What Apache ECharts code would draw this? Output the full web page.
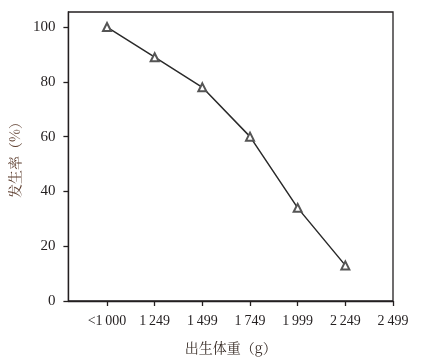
<!DOCTYPE html>
<html>
<head>
<meta charset="utf-8">
<script src="https://cdn.jsdelivr.net/npm/echarts@6/dist/echarts.min.js"></script>
<style>html,body{margin:0;padding:0;background:#fff;}#c{width:425px;height:363px;}</style>
</head>
<body>
<div id="c"></div>
<script>
var categories = ["<1\u2009000", "1\u2009249", "1\u2009499", "1\u2009749", "1\u2009999", "2\u2009249", "2\u2009499"];
var values = [100, 89, 78, 60, 34, 13];
var yTicks = [0, 20, 40, 60, 80, 100];
var xTitle = "出生体重（g）";
var yTitle = "发生率（%）";

var ink = '#231f20';
var serif = '"Liberation Serif","DejaVu Serif",serif';
var cjk = '"Noto Serif CJK SC","Noto Sans CJK SC",serif';
var pos = categories.map(function (_, i) { return i + 1; });
var chart = echarts.init(document.getElementById('c'), null, {renderer: 'canvas'});
chart.setOption({
  animation: false,
  backgroundColor: '#fff',
  grid: {left: 67, right: 32, top: 12, bottom: 62, show: true, borderColor: ink, borderWidth: 1.3, backgroundColor: 'transparent'},
  xAxis: {
    type: 'value', min: 0.19, max: 7,
    name: xTitle, nameLocation: 'middle', nameGap: 40,
    nameTextStyle: {fontFamily: cjk, fontSize: 14, color: '#3a2e28'},
    axisLine: {show: true, lineStyle: {color: ink, width: 1.3}},
    axisTick: {show: true, length: 5, inside: false, customValues: pos, lineStyle: {color: ink, width: 1.3}},
    axisLabel: {customValues: pos, margin: 13, fontFamily: serif, fontSize: 14, color: ink,
      formatter: function (v) { return categories[Math.round(v) - 1] || ''; }},
    splitLine: {show: false}
  },
  yAxis: {
    type: 'value', min: 0, max: 105.5,
    name: yTitle, nameLocation: 'middle', nameGap: 46, nameRotate: 90,
    nameTextStyle: {fontFamily: cjk, fontSize: 14, color: '#5a3a2a'},
    axisLine: {show: true, lineStyle: {color: ink, width: 1.3}},
    axisTick: {show: true, length: 5, inside: false, customValues: yTicks, lineStyle: {color: ink, width: 1.3}},
    axisLabel: {customValues: yTicks, margin: 13, fontFamily: serif, fontSize: 15, color: ink},
    splitLine: {show: false}
  },
  series: [{
    type: 'line',
    data: values.map(function (v, i) { return [pos[i], v]; }),
    symbol: 'emptyTriangle', symbolSize: 8,
    lineStyle: {color: '#2a2a2a', width: 1.5},
    itemStyle: {color: '#555', borderColor: '#555', borderWidth: 1}
  }]
});
</script>
</body>
</html>
